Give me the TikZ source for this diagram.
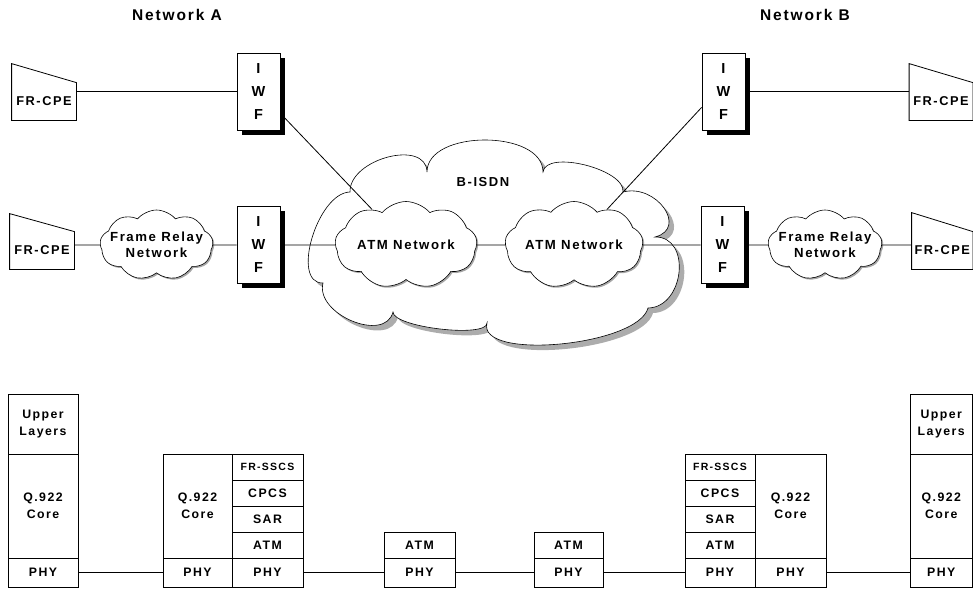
\documentclass[tikz,border=0pt]{standalone}
\usepackage{fontspec}
\setmainfont{Liberation Sans}[LetterSpace=12]
\usetikzlibrary{shapes.symbols,shadows,calc}

% one protocol-stack cell given by its corners
\newcommand\layercell[6]{%
  \node[layer, minimum width={#4-#2}, minimum height={#5-#3}] (#1)
    at ({(#2+#4)/2},{(#3+#5)/2}) {#6};}
% smaller type for the FR-SSCS cells
\newcommand\sscsfont{\fontsize{10.5}{12}\selectfont\bfseries}

\begin{document}
\begin{tikzpicture}[x=1pt, y=-1pt, line width=0.8pt,
  title/.style={font=\fontsize{15.5}{18}\selectfont\bfseries},
  cpe/.style={minimum height=37pt, inner sep=0pt,
    font=\fontsize{12.8}{15}\selectfont\bfseries},
  iwf/.style={draw, fill=white, minimum width=43pt, minimum height=77pt,
    inner sep=0pt, align=center, font=\fontsize{14.5}{23}\selectfont\bfseries,
    drop shadow={shadow xshift=4.5pt, shadow yshift=-4.5pt, fill=black, opacity=1}},
  netcloud/.style={cloud, cloud puffs=9, cloud puff arc=100, cloud ignores aspect,
    draw, fill=white, line width=0.6pt, inner sep=0pt,
    drop shadow={shadow xshift=1.5pt, shadow yshift=-1.5pt, fill=gray!70, opacity=1}},
  cloudtext/.style={align=center, font=\fontsize{13.2}{15.5}\selectfont\bfseries},
  layer/.style={draw, inner sep=0pt, align=center,
    font=\fontsize{12.3}{17}\selectfont\bfseries}
]
\useasboundingbox (0,0) rectangle (973,590);

% ---- headings
\node[title] (netA) at (177,15) {Network A};
\node[title] (netB) at (805,15) {Network B};

% ---- B-ISDN cloud
\draw[line width=0.6pt, fill=white,
      drop shadow={shadow xshift=5pt, shadow yshift=-5pt, fill=gray!65, opacity=1}]
  (323,283) .. controls (290.3,283.7) and (317.3,192.7) .. (350,192)
  .. controls (349.3,158.7) and (426.3,138.7) .. (427,172)
  .. controls (427,129.3) and (543,129.3) .. (543,172)
  .. controls (545.7,149.3) and (625.7,169.3) .. (623,192)
  .. controls (656.3,183.3) and (688.3,228.3) .. (655,237)
  .. controls (691.7,236.3) and (684.7,307.3) .. (648,308)
  .. controls (638,346) and (477,361) .. (487,323)
  .. controls (487,338.3) and (393,327.3) .. (393,312)
  .. controls (385,343.3) and (315,314.3) .. (323,283) -- cycle;
\node[font=\fontsize{13}{15}\selectfont\bfseries] (bisdn) at (483,182) {B-ISDN};

% ---- inner clouds
\node[netcloud, minimum width=142pt, minimum height=87pt] (atmL) at (406,245) {};
\node[cloudtext] at (atmL.center) {ATM Network};
\node[netcloud, minimum width=138pt, minimum height=87pt] (atmR) at (574,245) {};
\node[cloudtext] at (atmR.center) {ATM Network};
\node[netcloud, minimum width=113pt, minimum height=70pt] (frA) at (156.5,245) {};
\node[cloudtext] at (frA.center) {Frame Relay\\Network};
\node[netcloud, minimum width=114pt, minimum height=70pt] (frB) at (825,245) {};
\node[cloudtext] at (frB.center) {Frame Relay\\Network};

% ---- interworking functions
\node[iwf] (iwfA1) at (258.5,91.5) {I\\W\\F};
\node[iwf] (iwfA2) at (258.5,245) {I\\W\\F};
\node[iwf] (iwfB1) at (723.5,91.5) {I\\W\\F};
\node[iwf] (iwfB2) at (722.5,245) {I\\W\\F};

% ---- customer premises equipment
\node[cpe, minimum width=64pt] (cpeA1) at (44,101.5) {FR-CPE};
\node[cpe, minimum width=64pt] (cpeA2) at (42,250.5) {FR-CPE};
\node[cpe, minimum width=63pt] (cpeB1) at (941,101.5) {FR-CPE};
\node[cpe, minimum width=60.5pt] (cpeB2) at (942.25,250.5) {FR-CPE};
\foreach \c/\rise in {cpeA1/19, cpeA2/18, cpeB1/19, cpeB2/19}
  \draw (\c.south west) -- (\c.south east) -- (\c.north east)
        -- ($(\c.north west)+(0,-\rise)$) -- cycle;

% ---- links
\draw (iwfA1) -- (iwfA1 -| cpeA1.east);
\draw (iwfB1) -- (iwfB1 -| cpeB1.west);
\draw (frA) -- (frA -| cpeA2.east);
\draw (frB) -- (frB -| cpeB2.west);
\draw (frA) -- (iwfA2);
\draw (iwfA2) -- (atmL);
\draw (atmL) -- (atmR);
\draw (atmR) -- (iwfB2);
\draw (iwfB2) -- (frB);
\draw (iwfA1.-45) -- (atmL);
\draw (iwfB1.216) -- (atmR);

% ---- protocol stacks
\layercell{s1u}{8}{394}{78}{454}{Upper\\Layers}
\layercell{s1q}{8}{454}{78}{558}{Q.922\\Core}
\layercell{s1p}{8}{558}{78}{587}{PHY}

\layercell{s2q}{163}{454}{232}{558}{Q.922\\Core}
\layercell{s2p}{163}{558}{232}{587}{PHY}
\layercell{s2f}{232}{454}{303}{480}{\sscsfont FR-SSCS}
\layercell{s2c}{232}{480}{303}{506}{CPCS}
\layercell{s2s}{232}{506}{303}{532}{SAR}
\layercell{s2a}{232}{532}{303}{558}{ATM}
\layercell{s2y}{232}{558}{303}{587}{PHY}

\layercell{r1a}{384}{532}{455}{558}{ATM}
\layercell{r1p}{384}{558}{455}{587}{PHY}
\layercell{r2a}{534}{532}{603}{558}{ATM}
\layercell{r2p}{534}{558}{603}{587}{PHY}

\layercell{s3f}{685}{454}{755}{480}{\sscsfont FR-SSCS}
\layercell{s3c}{685}{480}{755}{506}{CPCS}
\layercell{s3s}{685}{506}{755}{532}{SAR}
\layercell{s3a}{685}{532}{755}{558}{ATM}
\layercell{s3y}{685}{558}{755}{587}{PHY}
\layercell{s3q}{755}{454}{826}{558}{Q.922\\Core}
\layercell{s3p}{755}{558}{826}{587}{PHY}

\layercell{s4u}{910}{394}{972.5}{454}{Upper\\Layers}
\layercell{s4q}{910}{454}{972.5}{558}{Q.922\\Core}
\layercell{s4p}{910}{558}{972.5}{587}{PHY}

\draw (s1p) -- (s2p);
\draw (s2y) -- (r1p);
\draw (r1p) -- (r2p);
\draw (r2p) -- (s3y);
\draw (s3p) -- (s4p);
\end{tikzpicture}
\end{document}
